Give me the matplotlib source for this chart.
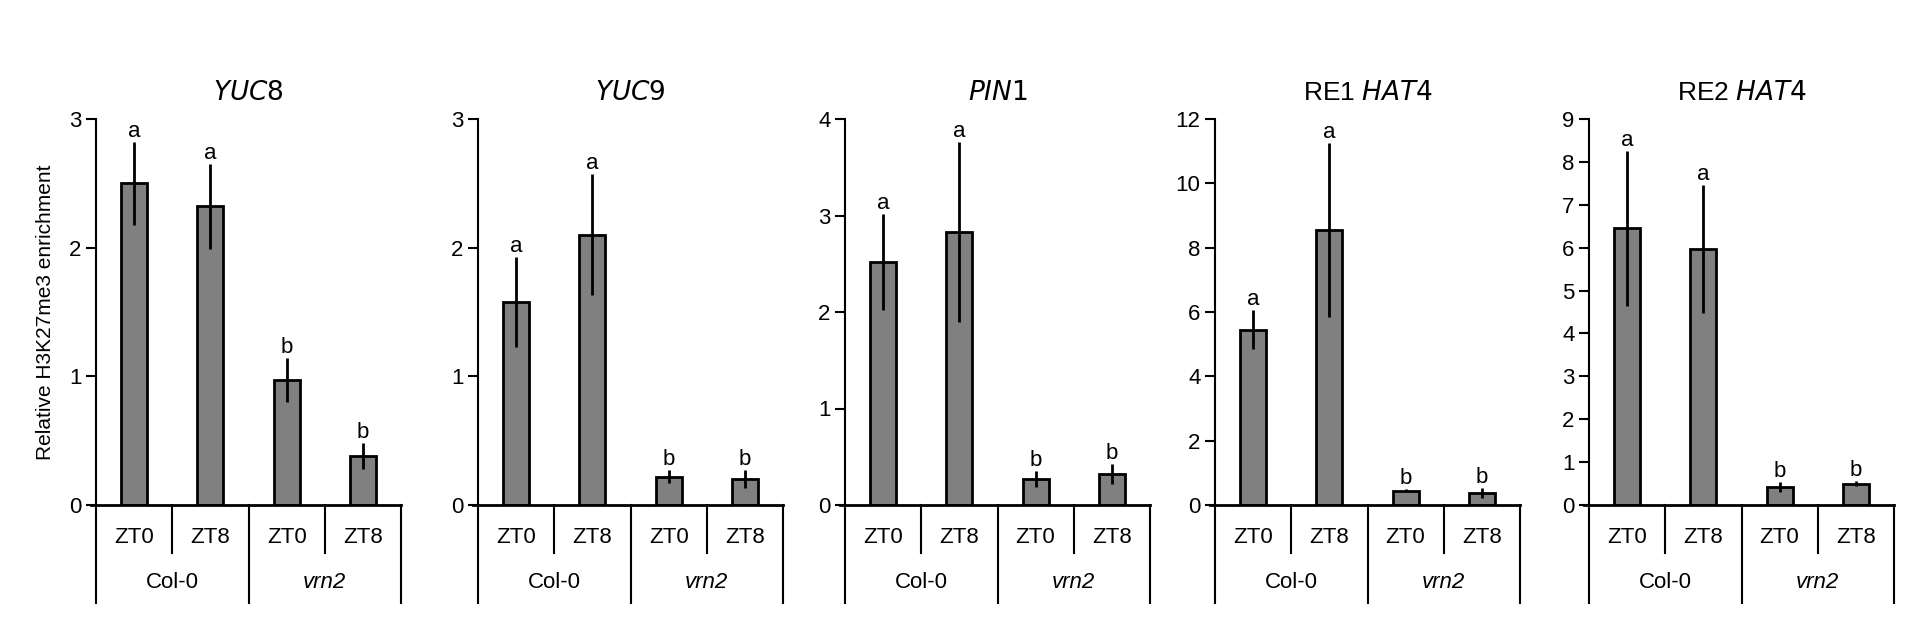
import matplotlib
matplotlib.use("Agg")
from matplotlib import pyplot as plt

plt.rcParams['font.family'] = 'Liberation Sans'

genes = ['YUC8', 'YUC9', 'PIN1', 'RE1 HAT4', 'RE2 HAT4']
times = ['ZT0', 'ZT8', 'ZT0', 'ZT8']
genotypes = ['Col-0', 'vrn2']

values = [
    [2.50, 2.32, 0.97, 0.38],
    [1.58, 2.10, 0.22, 0.20],
    [2.52, 2.83, 0.27, 0.32],
    [5.45, 8.55, 0.45, 0.38],
    [6.45, 5.97, 0.42, 0.50],
]
errors = [
    [0.32, 0.33, 0.17, 0.10],
    [0.35, 0.47, 0.05, 0.07],
    [0.50, 0.93, 0.08, 0.10],
    [0.60, 2.70, 0.05, 0.15],
    [1.80, 1.50, 0.12, 0.05],
]
letters = ['a', 'a', 'b', 'b']
ymax = [3, 3, 4, 12, 9]
ystep = [1, 1, 1, 2, 1]

fig = plt.figure(figsize=(19.2, 6.17), dpi=100)
W, H = 1920.0, 617.0
lefts = [96, 478, 845, 1215, 1589]
aw, top, bottom = 305, 119, 505

for i, gene in enumerate(genes):
    ax = fig.add_axes([lefts[i] / W, 1 - bottom / H, aw / W, (bottom - top) / H])
    x = [0.5, 1.5, 2.5, 3.5]
    ax.bar(x, values[i], width=0.34, color='#808080', edgecolor='black', linewidth=2, zorder=2)
    ax.errorbar(x, values[i], yerr=errors[i], fmt='none', ecolor='black', elinewidth=2, capsize=0, zorder=3)
    for xi, v, e, l in zip(x, values[i], errors[i], letters):
        ax.text(xi, v + e, l, ha='center', va='bottom', fontsize=16)
    ax.set_xlim(0, 4)
    ax.set_ylim(0, ymax[i])
    ax.set_yticks(range(0, ymax[i] + 1, ystep[i]))
    ax.set_xticks([])
    ax.tick_params(axis='y', direction='out', length=7, width=1.5, labelsize=16)
    for s in ['top', 'right']:
        ax.spines[s].set_visible(False)
    ax.spines['left'].set_linewidth(1.5)
    ax.spines['bottom'].set_linewidth(2)
    ax.spines['bottom'].set_bounds(-0.07, 4)

    # category table under the axis
    for xl, yb in [(0, -0.254), (1, -0.124), (2, -0.254), (3, -0.124), (4, -0.254)]:
        ax.plot([xl, xl], [0, yb], transform=ax.get_xaxis_transform(), color='black',
                lw=1.5, clip_on=False)
    for xi, t in zip(x, times):
        ax.text(xi, -0.083, t, transform=ax.get_xaxis_transform(), ha='center', va='center', fontsize=16)
    ax.text(1, -0.2, genotypes[0], transform=ax.get_xaxis_transform(), ha='center', va='center', fontsize=16)
    ax.text(3, -0.2, genotypes[1], transform=ax.get_xaxis_transform(), ha='center', va='center',
            fontsize=16, style='italic')

    parts = gene.split(' ')
    if len(parts) == 2:
        title = parts[0] + ' $\\it{' + parts[1] + '}$'
    else:
        title = '$\\it{' + gene + '}$'
    ax.set_title(title, fontsize=19, pad=14)

    if i == 0:
        ax.set_ylabel('Relative H3K27me3 enrichment', fontsize=15, labelpad=10)

fig.savefig('out.png', dpi=100)
